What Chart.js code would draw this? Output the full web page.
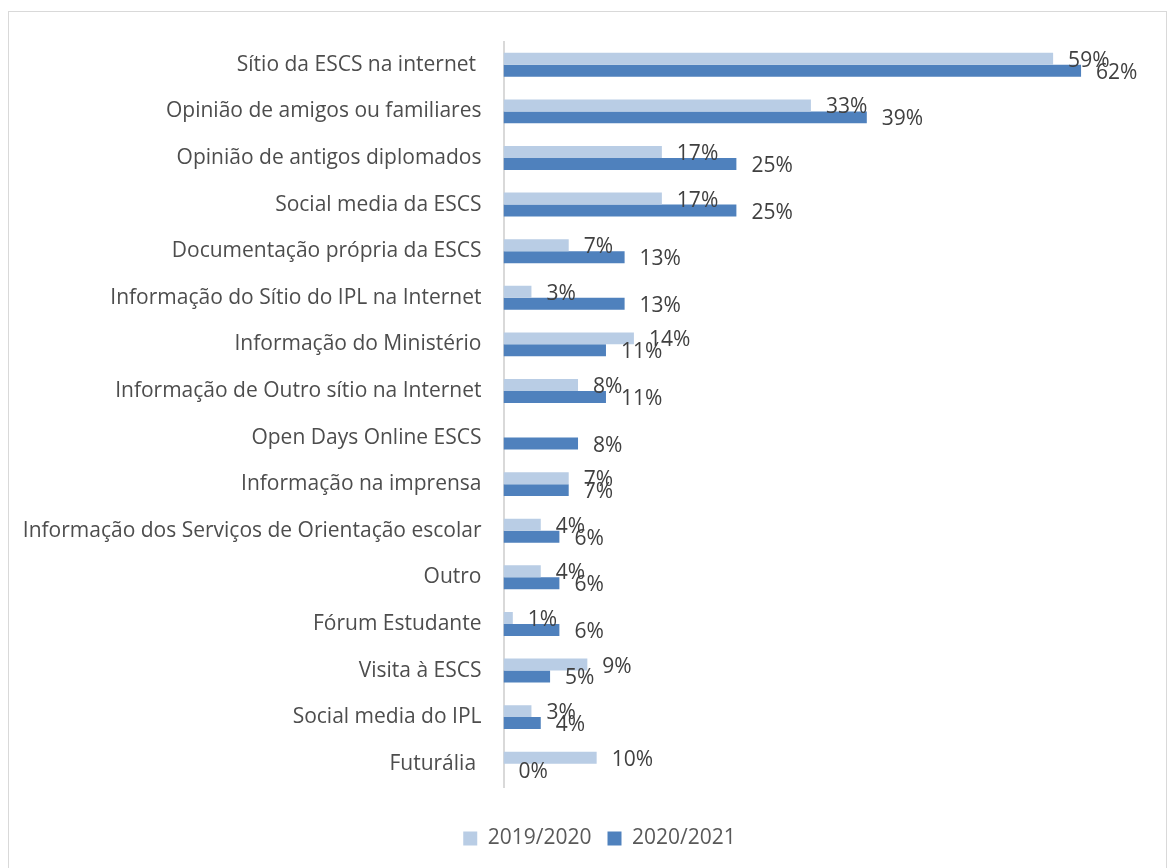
<!DOCTYPE html>
<html>
<head>
<meta charset="utf-8">
<script src="https://cdn.jsdelivr.net/npm/chart.js@4"></script>
<style>
  html, body { margin: 0; padding: 0; background: #fff; overflow: hidden; }
  #wrap { position: absolute; left: 0; top: 0; width: 1170px; height: 868px; overflow: hidden; }
  #frame { position: absolute; left: 8px; top: 11px; width: 1159px; height: 870px; border: 1px solid #D9D9D9; box-sizing: border-box; pointer-events: none; }
</style>
</head>
<body>
<div id="wrap"><canvas id="c" width="1199" height="868"></canvas></div>
<div id="frame"></div>
<script>
const categories = [
  "Sítio da ESCS na internet ",
  "Opinião de amigos ou familiares",
  "Opinião de antigos diplomados",
  "Social media da ESCS",
  "Documentação própria da ESCS",
  "Informação do Sítio do IPL na Internet",
  "Informação do Ministério",
  "Informação de Outro sítio na Internet",
  "Open Days Online ESCS",
  "Informação na imprensa",
  "Informação dos Serviços de Orientação escolar",
  "Outro",
  "Fórum Estudante",
  "Visita à ESCS",
  "Social media do IPL",
  "Futurália "
];
const series2019 = [59, 33, 17, 17, 7, 3, 14, 8, null, 7, 4, 4, 1, 9, 3, 10];
const series2020 = [62, 39, 25, 25, 13, 13, 11, 11, 8, 7, 6, 6, 6, 5, 4, 0];
const seriesNames = ["2019/2020", "2020/2021"];

const FONT = "'Open Sans', 'Noto Sans', sans-serif";

const labelPlugin = {
  id: 'valueLabels',
  afterDatasetsDraw(chart) {
    const ctx = chart.ctx;
    ctx.save();
    ctx.font = "21px " + FONT;
    ctx.fillStyle = "#404040";
    ctx.textAlign = "left";
    ctx.textBaseline = "middle";
    chart.data.datasets.forEach((ds, di) => {
      const meta = chart.getDatasetMeta(di);
      meta.data.forEach((el, i) => {
        const v = ds.data[i];
        if (v === null || v === undefined) return;
        ctx.fillText(v + "%", el.x + 15, el.y + 2);
      });
    });
    ctx.restore();
  }
};

new Chart(document.getElementById('c'), {
  type: 'bar',
  data: {
    labels: categories,
    datasets: [
      { label: seriesNames[0], data: series2019, backgroundColor: '#B9CDE5', borderWidth: 0,
        categoryPercentage: 0.514, barPercentage: 1.0 },
      { label: seriesNames[1], data: series2020, backgroundColor: '#4F81BD', borderWidth: 0,
        categoryPercentage: 0.514, barPercentage: 1.0 }
    ]
  },
  options: {
    indexAxis: 'y',
    responsive: false,
    animation: false,
    devicePixelRatio: 1,
    layout: { padding: { top: 41.5, right: 0, left: 0, bottom: 9 } },
    scales: {
      x: {
        display: true, min: 0, max: 74.66,
        grid: { display: false, drawTicks: false },
        border: { display: false },
        ticks: { display: false },
        afterFit(scale) { scale.height = 25; }
      },
      y: {
        grid: { display: false, drawTicks: false },
        border: { display: true, color: '#D9D9D9', width: 2 },
        ticks: { color: '#4D4D4D', font: { family: FONT, size: 21 }, padding: 22, autoSkip: false },
        afterFit(scale) { scale.width = 503.5; }
      }
    },
    plugins: {
      legend: {
        position: 'bottom',
        labels: {
          boxWidth: 14, boxHeight: 14, color: '#595959',
          font: { family: FONT, size: 21 }, padding: 16
        }
      },
      tooltip: { enabled: false }
    }
  },
  plugins: [labelPlugin]
});
</script>
</body>
</html>
